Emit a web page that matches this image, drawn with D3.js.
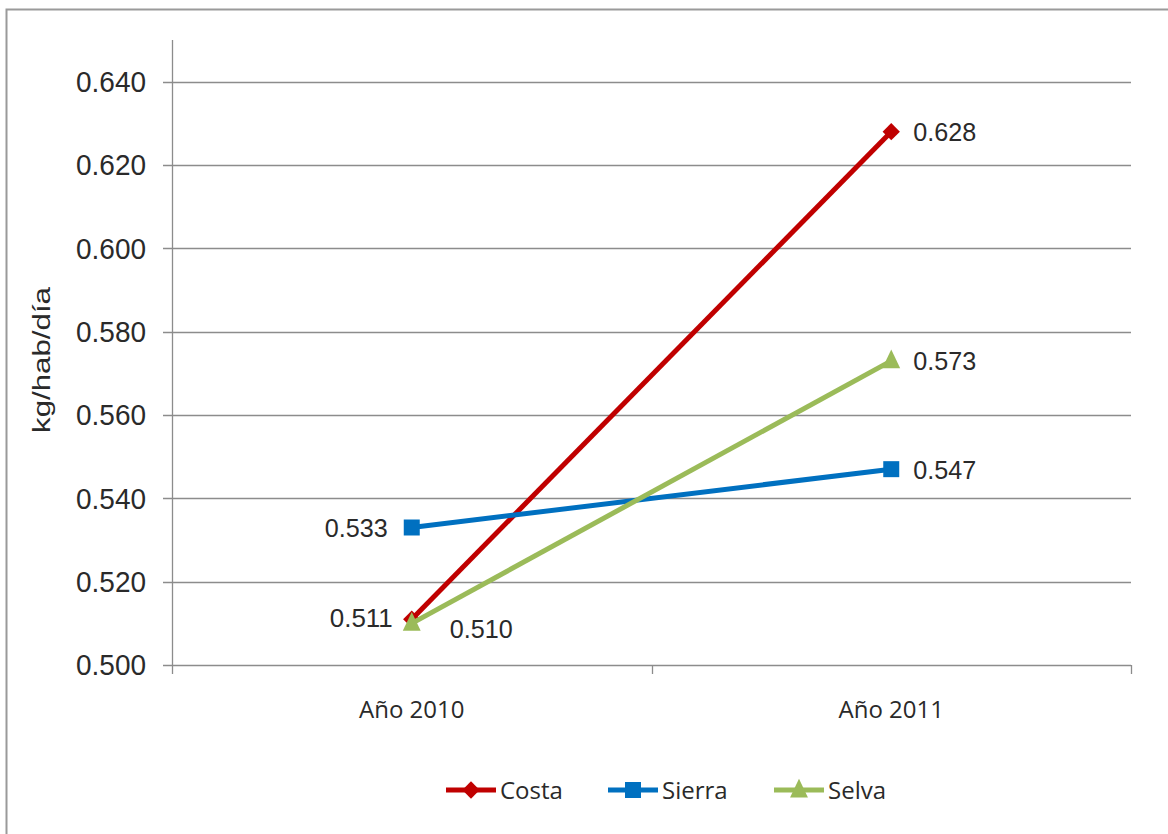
<!DOCTYPE html>
<html><head><meta charset="utf-8">
<script src="https://cdn.jsdelivr.net/npm/d3@7"></script>
<style>body{margin:0;background:#fff}</style>
</head><body>
<svg id="c" width="1168" height="834"></svg>
<script>
const categories = ["Año 2010", "Año 2011"];
const costa = [0.511, 0.628];
const sierra = [0.533, 0.547];
const selva = [0.510, 0.573];
const yTicks = [0.500, 0.520, 0.540, 0.560, 0.580, 0.600, 0.620, 0.640];
const seriesNames = ["Costa", "Sierra", "Selva"];

(function(){
const diamond = { draw(ctx, size) { const r = Math.sqrt(size / 2); ctx.moveTo(0, -r); ctx.lineTo(r, 0); ctx.lineTo(0, r); ctx.lineTo(-r, 0); ctx.closePath(); } };
const triangle = { draw(ctx, size) { const w = Math.sqrt(size), h = w * 1.05; ctx.moveTo(0, -h * 0.6); ctx.lineTo(w / 2, h * 0.4); ctx.lineTo(-w / 2, h * 0.4); ctx.closePath(); } };
const series = [
  {name: seriesNames[0], values: costa, color: "#C00000", symbol: diamond, size: 150, labelPos: [["end", -19, -2], ["start", 22, 0]]},
  {name: seriesNames[1], values: sierra, color: "#0070C0", symbol: d3.symbolSquare, size: 256, labelPos: [["end", -24, 0], ["start", 22, 0]]},
  {name: seriesNames[2], values: selva, color: "#9BBB59", symbol: triangle, size: 320, labelPos: [["start", 38, 5], ["start", 22, 0]]}
];

const svg = d3.select("#c");
svg.append("rect").attr("x", 6.5).attr("y", 9.5).attr("width", 1170).attr("height", 840)
  .attr("fill", "none").attr("stroke", "#9a9a9a").attr("stroke-width", 2);

const pL = 172, pR = 1131, pT = 40, pB = 665;
const x = d3.scaleBand().domain(categories).range([pL, pR]);
const y = d3.scaleLinear().domain([0.5, 0.65]).range([pB, pT]);
const numFont = "'Liberation Sans', Arial, sans-serif";
const catFont = "'Open Sans', 'Noto Sans', sans-serif";
const gridC = "#8c8c8c";
const txtC = "#2a2a2a";

svg.append("g").selectAll("line").data(yTicks).join("line")
  .attr("x1", pL - 9).attr("x2", pR).attr("y1", d => Math.round(y(d)) + 0.5).attr("y2", d => Math.round(y(d)) + 0.5)
  .attr("stroke", gridC).attr("stroke-width", 1.3);

svg.append("line").attr("x1", pL + 0.5).attr("x2", pL + 0.5).attr("y1", pT).attr("y2", pB)
  .attr("stroke", gridC).attr("stroke-width", 1.3);

svg.append("g").selectAll("text").data(yTicks).join("text")
  .attr("x", 146).attr("y", d => y(d)).attr("dy", "0.36em").attr("text-anchor", "end")
  .attr("font-family", numFont).attr("font-size", 29).attr("fill", txtC)
  .attr("textLength", 70).attr("lengthAdjust", "spacingAndGlyphs")
  .text(d => d3.format(".3f")(d));

const xBounds = [pL, pL + x.step(), pR];
svg.append("g").selectAll("line").data(xBounds).join("line")
  .attr("x1", d => Math.round(d) + 0.5).attr("x2", d => Math.round(d) + 0.5)
  .attr("y1", pB).attr("y2", pB + 9).attr("stroke", gridC).attr("stroke-width", 1.3);

svg.append("g").selectAll("text").data(categories).join("text")
  .attr("x", d => x(d) + x.bandwidth() / 2).attr("y", 718).attr("text-anchor", "middle")
  .attr("font-family", catFont).attr("font-size", 24).attr("fill", txtC)
  .text(d => d);

svg.append("text").attr("transform", "translate(42,360) rotate(-90)").attr("text-anchor", "middle")
  .attr("dominant-baseline", "central")
  .attr("font-family", numFont).attr("font-size", 23).attr("fill", txtC)
  .attr("textLength", 146).attr("lengthAdjust", "spacingAndGlyphs").text("kg/hab/día");

const cx = i => x(categories[i]) + x.bandwidth() / 2;
const line = d3.line().x((d, i) => cx(i)).y(d => y(d));

series.forEach(s => {
  svg.append("path").attr("d", line(s.values)).attr("fill", "none")
    .attr("stroke", s.color).attr("stroke-width", 5);
  s.values.forEach((v, i) => {
    svg.append("path").attr("d", d3.symbol().type(s.symbol).size(s.size)())
      .attr("transform", `translate(${cx(i)},${y(v)})`)
      .attr("fill", s.color);
  });
});

series.forEach(s => {
  s.values.forEach((v, i) => {
    const [anchor, dx, dy] = s.labelPos[i];
    svg.append("text").attr("x", cx(i) + dx).attr("y", y(v) + dy).attr("dy", "0.36em").attr("text-anchor", anchor)
      .attr("font-family", numFont).attr("font-size", 26).attr("fill", txtC)
      .attr("textLength", 63).attr("lengthAdjust", "spacingAndGlyphs")
      .text(d3.format(".3f")(v));
  });
});

const legX = [446, 608, 774];
series.forEach((s, k) => {
  const g = svg.append("g").attr("transform", `translate(${legX[k]},790)`);
  g.append("line").attr("x1", 0).attr("x2", 50).attr("stroke", s.color).attr("stroke-width", 5);
  g.append("path").attr("d", d3.symbol().type(s.symbol).size(s.size)()).attr("transform", "translate(25,0)").attr("fill", s.color);
  g.append("text").attr("x", 54).attr("dy", "0.36em").attr("font-family", catFont).attr("font-size", 24)
    .attr("fill", txtC).text(s.name);
});
})();
</script>
</body></html>
